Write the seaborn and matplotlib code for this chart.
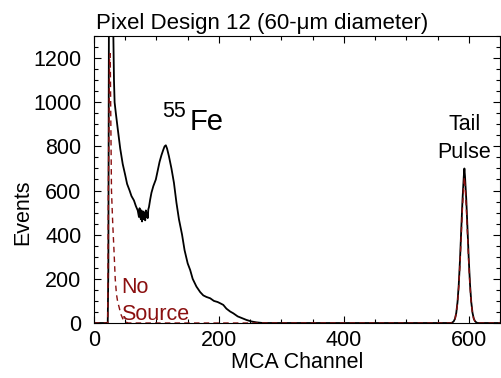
import numpy as np
import pandas as pd
import matplotlib
matplotlib.use('Agg')
import matplotlib.pyplot as plt
from matplotlib.ticker import MultipleLocator
import seaborn as sns

# Fe-55 spectrum (black, solid)
fe_channel = [0, 21, 22, 23, 24, 26, 28, 30, 31, 32, 33, 35, 38, 42, 46, 50, 53, 57, 60, 64,
              67, 70, 72, 73, 74, 75, 76, 77, 78, 79, 80, 81, 82, 83, 84, 85, 86, 87, 88, 90,
              92, 95, 99, 102, 105, 108, 111, 113, 115, 117, 120, 124, 128, 132, 136, 141, 145,
              150, 154, 158, 164, 170, 175, 180, 186, 192, 198, 203, 207, 212, 218, 223, 230,
              237, 244, 252, 260, 270, 572,
              574, 576, 578, 580, 582, 584, 586, 588, 590, 592, 593, 594, 596, 598, 600, 602,
              604, 606, 608, 610, 612, 614, 650]
fe_counts = [0, 0, 0, 250, 1500, 2500, 2200, 1500, 1300, 1100, 1000, 950, 880, 790, 720, 670,
             630, 600, 575, 555, 530, 510, 480, 520, 490, 470, 510, 460, 490, 505, 470, 500,
             465, 510, 480, 500, 475, 515, 525, 560, 590, 620, 650, 690, 730, 760, 785, 800,
             805, 790, 755, 700, 635, 545, 470, 400, 330, 270, 240, 200, 165, 140, 125, 118,
             112, 100, 95, 88, 82, 65, 52, 44, 30, 22, 14, 7, 3, 0, 0,
             3, 8, 20, 46, 95, 175, 288, 425, 560, 663, 700, 663, 560, 425, 288, 175,
             95, 46, 20, 8, 3, 0, 0]

# No source spectrum (red, dashed)
ns_channel = [0, 21, 22, 23, 25, 26, 27, 28, 30, 32, 34, 36, 38, 40, 43, 46, 50, 55, 572,
              574, 576, 578, 580, 582, 584, 586, 588, 590, 592, 593, 594, 596, 598, 600, 602,
              604, 606, 608, 610, 612, 614, 650]
ns_counts = [0, 0, 0, 600, 1210, 1220, 900, 600, 450, 330, 200, 130, 95, 74, 40, 20, 5, 0, 0,
             3, 7, 19, 43, 90, 165, 271, 400, 528, 625, 660, 625, 528, 400, 271, 165,
             90, 43, 19, 7, 3, 0, 0]

fe = pd.DataFrame({'channel': fe_channel, 'events': fe_counts})
ns = pd.DataFrame({'channel': ns_channel, 'events': ns_counts})

sns.set_style('ticks')
plt.rcParams['font.family'] = ['Liberation Sans', 'DejaVu Sans']
plt.rcParams['xtick.direction'] = 'in'
plt.rcParams['ytick.direction'] = 'in'
plt.rcParams['text.color'] = 'black'
plt.rcParams['axes.labelcolor'] = 'black'
plt.rcParams['xtick.color'] = 'black'
plt.rcParams['ytick.color'] = 'black'

dark_red = '#8b1010'

fig = plt.figure(figsize=(5.01, 3.78), dpi=100)
ax = fig.add_axes([0.1876, 0.1455, 0.8104, 0.7593])

sns.lineplot(data=fe, x='channel', y='events', color='black', linewidth=1.3, ax=ax, sort=False)
sns.lineplot(data=ns, x='channel', y='events', color=dark_red, linewidth=1.0,
             linestyle=(0, (4, 3)), ax=ax, sort=False)

ax.set_xlim(0, 650)
ax.set_ylim(0, 1300)
ax.xaxis.set_major_locator(MultipleLocator(200))
ax.xaxis.set_minor_locator(MultipleLocator(50))
ax.yaxis.set_major_locator(MultipleLocator(200))
ax.yaxis.set_minor_locator(MultipleLocator(50))
ax.tick_params(which='both', top=True, right=True, labelsize=15.5, width=0.8)
ax.tick_params(which='major', length=5)
ax.tick_params(which='minor', length=3)
ax.tick_params(axis='y', which='major', pad=9)
ax.tick_params(axis='x', which='major', pad=5)
for s in ax.spines.values():
    s.set_linewidth(0.8)
    s.set_color('black')

ax.set_xlabel('MCA Channel', fontsize=15.5, labelpad=1)
ax.set_ylabel('Events', fontsize=15.5)
ax.yaxis.set_label_coords(-0.15, 0.387)
ax.set_title('Pixel Design 12 (60-μm diameter)', fontsize=16, x=0.415, pad=5)

ax.text(109, 933, '55', fontsize=15.5, ha='left', va='baseline')
ax.text(153, 875, 'Fe', fontsize=21, ha='left', va='baseline')
ax.text(593, 875, 'Tail', fontsize=15.5, ha='center', va='baseline')
ax.text(593, 747, 'Pulse', fontsize=15.5, ha='center', va='baseline')
ax.text(43, 136, 'No', fontsize=15.5, ha='left', va='baseline', color=dark_red)
ax.text(43, 14, 'Source', fontsize=15.5, ha='left', va='baseline', color=dark_red)

fig.savefig('out.png', dpi=100)
